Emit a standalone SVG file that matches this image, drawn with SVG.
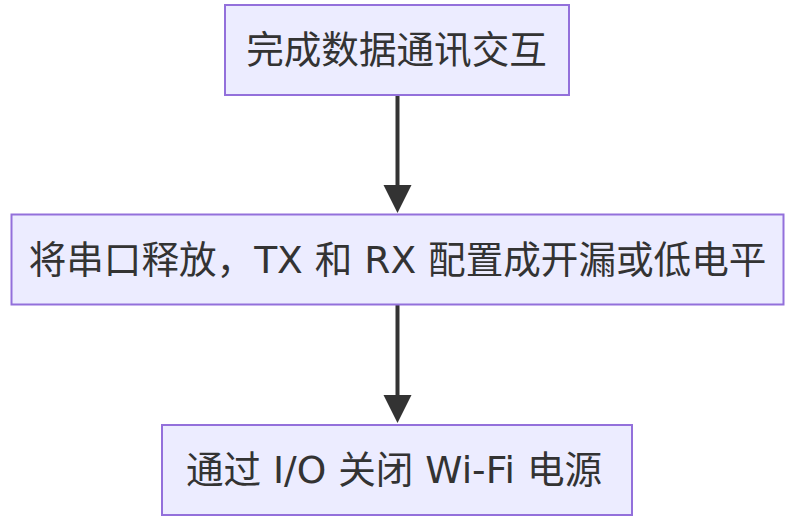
<svg xmlns="http://www.w3.org/2000/svg" width="802" height="532" viewBox="0 0 802 532">
<style>
.node rect{fill:#ECECFF;stroke:#9370DB;stroke-width:2}
.node text{fill:#333;font-family:"Trebuchet MS","DejaVu Sans","Noto Sans CJK SC",sans-serif;font-size:37.6px;text-anchor:middle;dominant-baseline:central}
.edge{stroke:#333;stroke-width:4;fill:none}
.head{fill:#333}
</style>
<rect width="802" height="532" fill="#ffffff"/>
<g id="connectors">
<line class="edge" x1="397.5" y1="95" x2="397.5" y2="188"/>
<polygon class="head" points="383.5,185 411.5,185 397.5,213"/>
<line class="edge" x1="397.5" y1="304" x2="397.5" y2="398"/>
<polygon class="head" points="383.5,395 411.5,395 397.5,423"/>
</g>
<g id="n1" class="node">
<rect x="225" y="5" width="344" height="90"/>
<text x="396.5" y="50">完成数据通讯交互</text>
</g>
<g id="n2" class="node">
<rect x="11.5" y="214.5" width="772" height="90"/>
<text x="397.5" y="260">将串口释放，TX 和 RX 配置成开漏或低电平</text>
</g>
<g id="n3" class="node">
<rect x="162" y="425" width="470" height="90"/>
<text x="394" y="470">通过 I/O 关闭 Wi-Fi 电源</text>
</g>
</svg>
